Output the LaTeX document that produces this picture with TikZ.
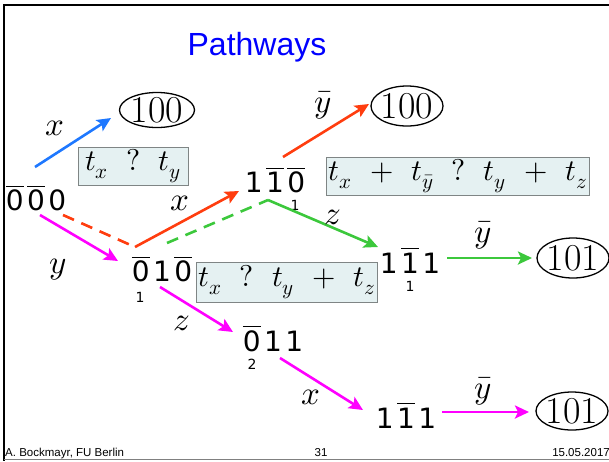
\documentclass[tikz,border=0pt]{standalone}
\usepackage{fontspec}
\usepackage{unicode-math}
\setmainfont{Liberation Sans}
\setmathfont{Latin Modern Math}
\newfontfamily\statefam{DejaVu Sans}
\newfontfamily\sinkfam{Latin Modern Roman}
\usetikzlibrary{arrows.meta,shapes.geometric}
\definecolor{titleblue}{HTML}{0000FF}
\definecolor{arrblue}{HTML}{1E78FF}
\definecolor{arrred}{HTML}{FF3D0F}
\definecolor{arrgreen}{HTML}{3CC83C}
\definecolor{arrmag}{HTML}{FF00FF}
\definecolor{boxbg}{HTML}{E5F1F2}
\definecolor{boxline}{HTML}{7F8585}
\newcommand{\nb}[1]{$\overline{\hbox{#1}}$}
\newcommand{\st}[3]{#1\kern3.5pt#2\kern3.5pt#3}
\newcommand{\gap}{\hspace{0.6em}}
\tikzset{
  state/.style={font=\statefam\fontsize{28}{30}\selectfont,inner sep=0pt},
  substate/.style={font=\statefam\fontsize{14}{16}\selectfont,inner sep=0pt},
  sink/.style={ellipse,draw,line width=1.3pt,inner sep=-4pt,
               minimum width=72pt,minimum height=38pt,
               font=\sinkfam\fontsize{38}{40}\selectfont},
  timebox/.style={draw=boxline,fill=boxbg,line width=0.8pt,
                  minimum height=38pt,inner sep=2pt,
                  font=\fontsize{30}{32}\selectfont},
  lbl/.style={font=\fontsize{33}{35}\selectfont,inner sep=0pt},
  foot/.style={font=\fontsize{11.5}{13}\selectfont,inner sep=0pt},
  arr/.style={-{Stealth[length=14pt,width=13pt,inset=3pt]},line width=2.6pt},
  dashline/.style={line width=2.6pt,dash pattern=on 12pt off 8pt}
}
\begin{document}
\begin{tikzpicture}[x=1pt,y=-1pt]
  \useasboundingbox (0,0) rectangle (609,461);
  % frame, title, footer
  \draw[line width=2.5pt] (609,5) -- (4,5) -- (4,461);
  \draw[gray,line width=0.8pt] (4,459) -- (609,459);
  \node[font=\fontsize{32}{34}\selectfont,text=titleblue,anchor=base] (title) at (257,55) {Pathways};
  \node[foot,anchor=base west] (fleft) at (5,456) {A. Bockmayr, FU Berlin};
  \node[foot,anchor=base] (fmid) at (321,456) {31};
  \node[foot,anchor=base east] (fright) at (610,456) {15.05.2017};

  % states
  \node[state] (n000) at (36,198) {\st{\nb0}{\nb0}{0}};
  \node[state] (n110) at (275,180) {\st{1}{\nb1}{\nb0}};
  \node[state] (n010) at (162,269) {\st{\nb0}{1}{\nb0}};
  \node[state] (n111a) at (410,260) {\st{1}{\nb1}{1}};
  \node[state] (n011) at (273,338) {\st{\nb0}{1}{1}};
  \node[state] (n111b) at (406,415) {\st{1}{\nb1}{1}};
  \node[substate] (s110) at (295,205) {1};
  \node[substate] (s010) at (140,297) {1};
  \node[substate] (s111) at (410,286) {1};
  \node[substate] (s011) at (252,364) {2};

  % end states
  \node[sink,minimum width=75pt,minimum height=35pt] (e100a) at (157,110) {100};
  \node[sink,minimum height=40pt] (e100b) at (407,106) {100};
  \node[sink,minimum height=40pt] (e101a) at (573,258) {101};
  \node[sink] (e101b) at (572,411) {101};

  % time comparisons
  \node[timebox,minimum width=110pt] (b1) at (133,166) {$t_x\gap?\gap t_y$};
  \node[timebox,minimum width=260pt] (b2) at (458,176)
    {$t_x\gap{+}\gap t_{\bar y}\gap?\gap t_y\gap{+}\gap t_z$};
  \node[timebox,minimum width=179pt,minimum height=40pt] (b3) at (287,282)
    {$t_x\gap?\gap t_y\gap{+}\gap t_z$};

  % pathways
  \coordinate (rc) at (135,247);
  \coordinate (gc) at (268,200);
  \draw[arr,arrblue] ([shift={(-1,-31)}]n000.center) -- ([shift={(-46,8)}]e100a.center);
  \draw[dashline,arrred] ([shift={(27,17)}]n000.center) -- (rc);
  \draw[arr,arrred] (rc) -- ([shift={(-36,11)}]n110.center);
  \draw[dashline,arrgreen] ([shift={(5,-26)}]n010.center) -- (gc);
  \draw[arr,arrgreen] (gc) -- ([shift={(-32,-13)}]n111a.center);
  \draw[arr,arrmag] ([shift={(4,17)}]n000.center) -- ([shift={(-44,-8)}]n010.center);
  \draw[arr,arrred] ([shift={(8,-23)}]n110.center) -- ([shift={(-38,-2)}]e100b.center);
  \draw[arr,arrgreen] ([shift={(37,-2)}]n111a.center) -- ([shift={(-41,0)}]e101a.center);
  \draw[arr,arrmag] ([shift={(-2,18)}]n010.center) -- ([shift={(-40,-6)}]n011.center);
  \draw[arr,arrmag] ([shift={(7,20)}]n011.center) -- ([shift={(-43,-5)}]n111b.center);
  \draw[arr,arrmag] ([shift={(36,-3)}]n111b.center) -- ([shift={(-43,1)}]e101b.center);

  % labels
  \node[lbl] (lx1) at (55,128) {$x$};
  \node[lbl] (ly1) at (58,270) {$y$};
  \node[lbl] (lx2) at (180,203) {$x$};
  \node[lbl] (lz1) at (333,217) {$z$};
  \node[lbl] (lyb1) at (323,105) {$\bar y$};
  \node[lbl] (lyb2) at (483,235) {$\bar y$};
  \node[lbl] (lz2) at (182,323) {$z$};
  \node[lbl] (lx3) at (311,397) {$x$};
  \node[lbl] (lyb3) at (483,391) {$\bar y$};
\end{tikzpicture}
\end{document}
